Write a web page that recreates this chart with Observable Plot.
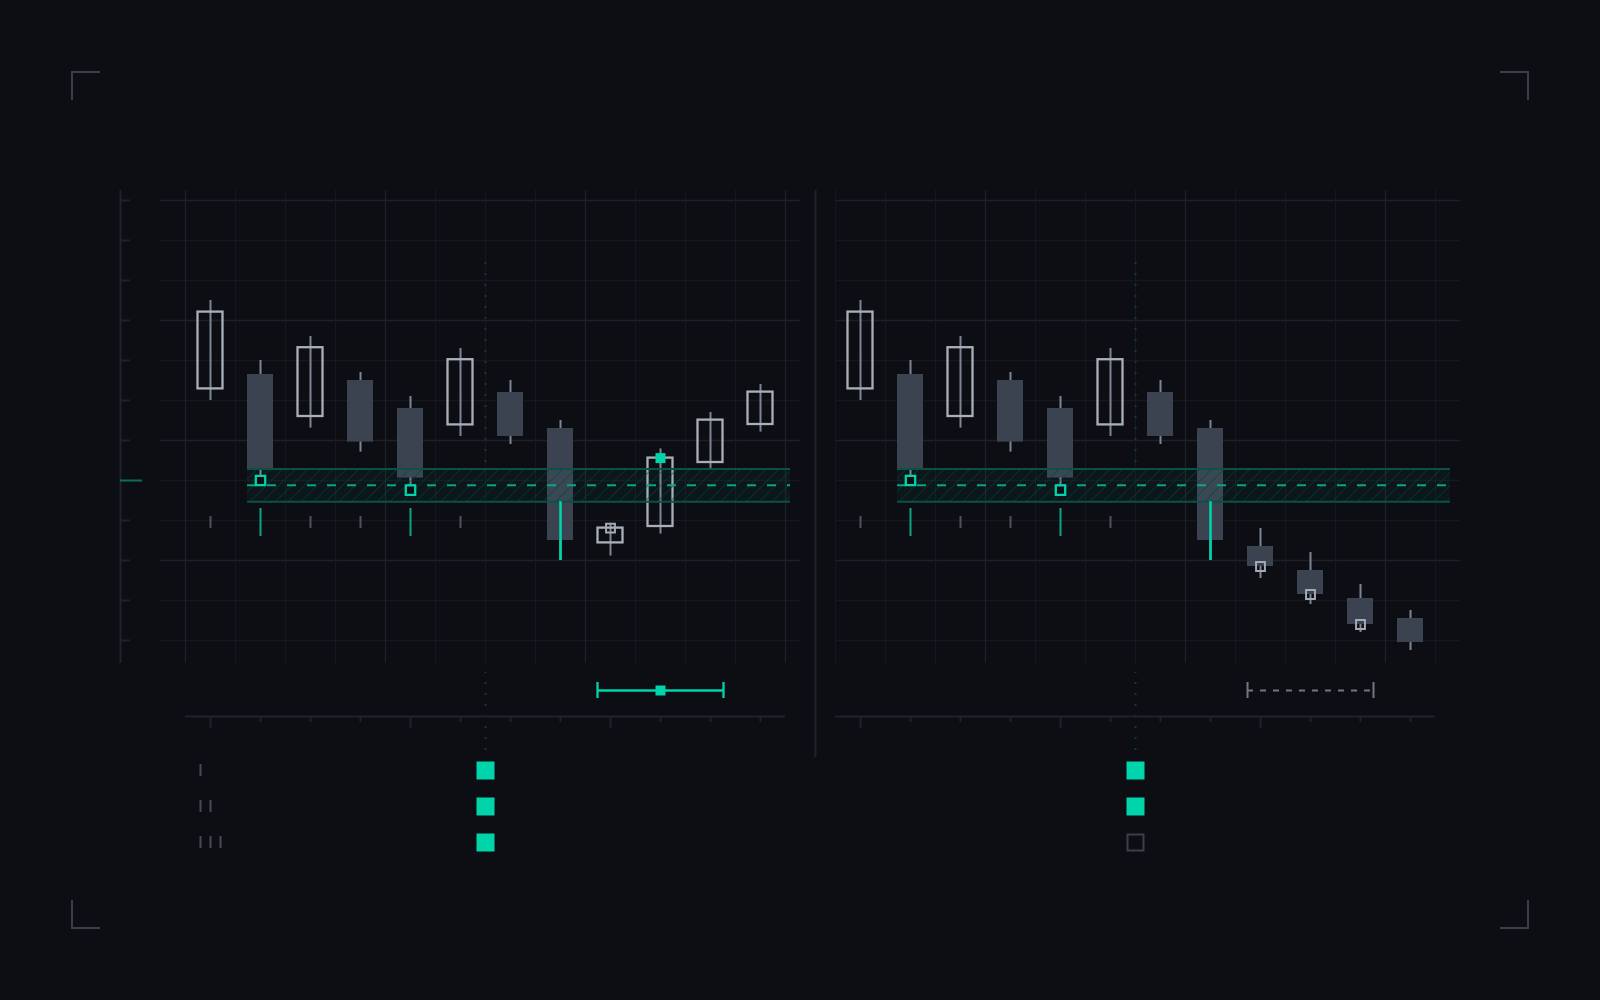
<!DOCTYPE html>
<html>
<head>
<meta charset="utf-8">
<script src="https://cdn.jsdelivr.net/npm/d3@7"></script>
<script src="https://cdn.jsdelivr.net/npm/@observablehq/plot@0.6"></script>
<style>
html, body { margin: 0; padding: 0; background: #0c0e13; overflow: hidden; }
#wrap { position: relative; width: 1600px; height: 1000px; background: #0c0e13; }
#chart { position: absolute; left: 0; top: 0; }
.corner { position: absolute; width: 29px; height: 29px; border: 0 solid #3a3f47; box-sizing: border-box; }
.tl { left: 71px; top: 71px; border-top-width: 2px; border-left-width: 2px; }
.tr { right: 71px; top: 71px; border-top-width: 2px; border-right-width: 2px; }
.bl { left: 71px; bottom: 71px; border-bottom-width: 2px; border-left-width: 2px; }
.br { right: 71px; bottom: 71px; border-bottom-width: 2px; border-right-width: 2px; }
</style>
</head>
<body>
<div id="wrap">
  <div class="corner tl"></div><div class="corner tr"></div>
  <div class="corner bl"></div><div class="corner br"></div>
  <div id="chart"></div>
</div>
<script>
// ---------------- data ----------------
const PANEL_OFFSET = 13;               // right panel candle index offset
const candleIdx = d3.range(12);

const openL  = [106.29, 106.65, 105.60, 106.50, 105.80, 105.39, 106.20, 105.30, 102.44, 102.85, 104.45, 105.40];
const closeL = [108.21, 104.30, 107.32, 104.96, 104.06, 107.02, 105.10, 102.50, 102.81, 104.56, 105.51, 106.21];
const highL  = [108.50, 107.00, 107.60, 106.70, 106.10, 107.30, 106.50, 105.50, 102.93, 104.79, 105.70, 106.40];
const lowL   = [106.00, 104.00, 105.31, 104.71, 103.76, 105.10, 104.90, 102.00, 102.11, 102.66, 104.25, 105.21];

const openR  = [106.29, 106.65, 105.60, 106.50, 105.80, 105.39, 106.20, 105.30, 102.35, 101.75, 101.05, 100.55];
const closeR = [108.21, 104.30, 107.32, 104.96, 104.06, 107.02, 105.10, 102.50, 101.85, 101.15, 100.40,  99.95];
const highR  = [108.50, 107.00, 107.60, 106.70, 106.10, 107.30, 106.50, 105.50, 102.80, 102.20, 101.40, 100.75];
const lowR   = [106.00, 104.00, 105.31, 104.71, 103.76, 105.10, 104.90, 102.00, 101.55, 100.90, 100.20,  99.75];

// support zone
const bandTop = 104.29, bandBottom = 103.47, refLevel = 103.88;
const bandSpans = [[0.74, 11.6], [13.74, 24.8]];
const breakdownIdx = [7, 7 + PANEL_OFFSET];

// markers
const tealHollowAtLow = [1, 4, 1 + PANEL_OFFSET, 4 + PANEL_OFFSET];
const tealFilledAtClose = [9];
const grayHollowAtClose = [8, 8 + PANEL_OFFSET, 9 + PANEL_OFFSET, 10 + PANEL_OFFSET];

// small marks under first candles
const subMarkIdx = [0, 1, 2, 3, 4, 5];
const subMarkAccent = [false, true, false, false, true, false];

// grid / axes
const yTicks = d3.range(100, 112);          // 100..111
const yMajor = [111, 108, 105, 102];
const yAccentTick = 104;
const xGridL = d3.range(-0.5, 12, 1);       // -0.5..11.5
const xGridR = d3.range(12.5, 25, 1);       // 12.5..24.5
const xGridMajor = [-0.5, 3.5, 7.5, 11.5, 15.5, 19.5, 23.5];
const longTickIdx = [0, 4, 8];

// range bars (bottom)
const rangeLevel = 98.75;
const rangeL = [7.74, 10.26], rangeLMid = 9;
const rangeR = [20.74, 23.26];

// dividers
const dividerX = [5.5, 5.5 + PANEL_OFFSET];

// legend
const legendRows = [96.75, 95.85, 94.95];
const legendTickX = [[-0.2], [-0.2, 0], [-0.2, 0, 0.2]];
const legendRightFilled = [true, true, false];

// ---------------- build tables ----------------
const candles = [];
candleIdx.forEach(i => {
  candles.push({x: i, open: openL[i], close: closeL[i], high: highL[i], low: lowL[i]});
  candles.push({x: i + PANEL_OFFSET, open: openR[i], close: closeR[i], high: highR[i], low: lowR[i]});
});
const byX = new Map(candles.map(d => [d.x, d]));
const bull = candles.filter(d => d.close >= d.open);
const bear = candles.filter(d => d.close < d.open);

const subMarks = [];
subMarkIdx.forEach((i, k) => {
  subMarks.push({x: i, accent: subMarkAccent[k]});
  subMarks.push({x: i + PANEL_OFFSET, accent: subMarkAccent[k]});
});

const bottomTicks = [];
candleIdx.forEach(i => {
  const long = longTickIdx.includes(i);
  bottomTicks.push({x: i, long});
  bottomTicks.push({x: i + PANEL_OFFSET, long});
});

const legendTicks = [];
legendRows.forEach((y, r) => legendTickX[r].forEach(x => legendTicks.push({x, y})));

const C = {
  grid: "#15191f", gridMajor: "#1c2129", axis: "#1e232b",
  bear: "#3b4351", bullStroke: "#a9b0bb", wick: "#7d8696",
  teal: "#00d4aa", tealDim: "#0ea385", tealDark: "#0a5246", bg: "#0c0e13"
};

const chart = Plot.plot({
  width: 1600, height: 1000, margin: 0,
  x: {domain: [-4.2, 27.8], axis: null},
  y: {domain: [91, 116], axis: null},
  style: {background: "transparent", overflow: "visible"},
  marks: [
    // horizontal grid
    Plot.ruleY(yTicks.filter(v => !yMajor.includes(v)), {y: d => d, x1: -1, x2: 11.8, stroke: C.grid, strokeWidth: 1.3}),
    Plot.ruleY(yTicks.filter(v => !yMajor.includes(v)), {y: d => d, x1: 12.5, x2: 25, stroke: C.grid, strokeWidth: 1.3}),
    Plot.ruleY(yMajor, {y: d => d, x1: -1, x2: 11.8, stroke: C.gridMajor, strokeWidth: 1.3}),
    Plot.ruleY(yMajor, {y: d => d, x1: 12.5, x2: 25, stroke: C.gridMajor, strokeWidth: 1.3}),
    // vertical grid
    Plot.ruleX(xGridL.concat(xGridR).filter(v => !xGridMajor.includes(v)), {x: d => d, y1: 99.425, y2: 111.25, stroke: C.grid, strokeWidth: 1.3}),
    Plot.ruleX(xGridMajor, {x: d => d, y1: 99.425, y2: 111.25, stroke: C.gridMajor, strokeWidth: 1.3}),

    // y axis (left)
    Plot.ruleX([-1.8], {x: d => d, y1: 99.425, y2: 111.25, stroke: C.axis, strokeWidth: 2}),
    Plot.ruleY(yTicks.filter(v => v !== yAccentTick), {y: d => d, x1: -1.8, x2: -1.6, stroke: C.axis, strokeWidth: 2}),
    Plot.ruleY([yAccentTick], {y: d => d, x1: -1.8, x2: -1.36, stroke: "#0d6e5c", strokeWidth: 2}),

    // separator
    Plot.ruleX([12.1], {x: d => d, y1: 97.075, y2: 111.25, stroke: C.axis, strokeWidth: 2}),

    // dotted dividers
    Plot.ruleX(dividerX, {x: d => d, y1: 104.45, y2: 109.45, stroke: "#0c3d35", strokeWidth: 2, strokeDasharray: "2,9"}),
    Plot.ruleX(dividerX, {x: d => d, y1: 97.25, y2: 99.2, stroke: "#0c3d35", strokeWidth: 2, strokeDasharray: "2,9"}),

    // wicks
    Plot.ruleX(candles, {x: "x", y1: "low", y2: "high", stroke: C.wick, strokeWidth: 2}),
    // bear bodies
    Plot.rect(bear, {x1: d => d.x - 0.26, x2: d => d.x + 0.26, y1: "open", y2: "close", fill: C.bear}),
    // bull bodies (hollow)
    Plot.rect(bull, {x1: d => d.x - 0.25, x2: d => d.x + 0.25, y1: "open", y2: "close", fill: "none", stroke: C.bullStroke, strokeWidth: 2.3}),

    // support band
    Plot.rect(bandSpans, {x1: d => d[0], x2: d => d[1], y1: bandBottom, y2: bandTop, fill: "#00c8a0", fillOpacity: 0.05}),
    Plot.rect(bandSpans, {x1: d => d[0], x2: d => d[1], y1: bandBottom, y2: bandTop, fill: "url(#hatch)"}),
    Plot.ruleY(bandSpans, {y: bandTop, x1: d => d[0], x2: d => d[1], stroke: C.tealDark, strokeWidth: 2}),
    Plot.ruleY(bandSpans, {y: bandBottom, x1: d => d[0], x2: d => d[1], stroke: C.tealDark, strokeWidth: 2}),
    Plot.ruleY(bandSpans, {y: refLevel, x1: d => d[0], x2: d => d[1], stroke: C.tealDim, strokeWidth: 2, strokeDasharray: "9,11"}),

    // breakdown wick
    Plot.ruleX(breakdownIdx, {x: d => d, y1: bandBottom, y2: d => byX.get(d).low, stroke: C.teal, strokeWidth: 2.6}),

    // sub marks
    Plot.ruleX(subMarks.filter(d => !d.accent), {x: "x", y1: 102.8, y2: 103.1, stroke: "#4b5261", strokeWidth: 2}),
    Plot.ruleX(subMarks.filter(d => d.accent), {x: "x", y1: 102.6, y2: 103.3, stroke: C.tealDim, strokeWidth: 2}),

    // markers
    Plot.dot(tealHollowAtLow, {x: d => d, y: d => byX.get(d).low, symbol: "square", r: 5.3, fill: C.bg, stroke: C.teal, strokeWidth: 2.3}),
    Plot.dot(tealFilledAtClose, {x: d => d, y: d => byX.get(d).close, symbol: "square", r: 5.64, fill: C.teal, stroke: "none"}),
    Plot.dot(grayHollowAtClose, {x: d => d, y: d => byX.get(d).close, symbol: "square", r: 5.0, fill: "none", stroke: "#a3aab5", strokeWidth: 2}),

    // bottom axes
    Plot.ruleY([[-0.5, 11.5], [12.5, 24.5]], {y: 98.1, x1: d => d[0], x2: d => d[1], stroke: C.axis, strokeWidth: 2}),
    Plot.ruleX(bottomTicks, {x: "x", y1: 98.1, y2: d => d.long ? 97.8 : 97.95, stroke: C.axis, strokeWidth: 2}),

    // range bars
    Plot.ruleY([rangeL], {y: rangeLevel, x1: d => d[0], x2: d => d[1], stroke: C.teal, strokeWidth: 2.3}),
    Plot.ruleX(rangeL, {x: d => d, y1: rangeLevel - 0.2, y2: rangeLevel + 0.2, stroke: C.teal, strokeWidth: 2.3}),
    Plot.dot([rangeLMid], {x: d => d, y: rangeLevel, symbol: "square", r: 5.64, fill: C.teal}),
    Plot.ruleY([rangeR], {y: rangeLevel, x1: d => d[0], x2: d => d[1], stroke: "#6f7786", strokeWidth: 2, strokeDasharray: "6,7"}),
    Plot.ruleX(rangeR, {x: d => d, y1: rangeLevel - 0.2, y2: rangeLevel + 0.2, stroke: "#6f7786", strokeWidth: 2}),

    // legend
    Plot.ruleX(legendTicks, {x: "x", y1: d => d.y - 0.15, y2: d => d.y + 0.15, stroke: "#434a58", strokeWidth: 2}),
    Plot.dot(legendRows, {x: dividerX[0], y: d => d, symbol: "square", r: 10.16, fill: C.teal}),
    Plot.dot(legendRows.filter((d, i) => legendRightFilled[i]), {x: dividerX[1], y: d => d, symbol: "square", r: 10.16, fill: C.teal}),
    Plot.dot(legendRows.filter((d, i) => !legendRightFilled[i]), {x: dividerX[1], y: d => d, symbol: "square", r: 9.03, fill: "none", stroke: "#3a404b", strokeWidth: 2})
  ]
});

const ns = "http://www.w3.org/2000/svg";
const defs = document.createElementNS(ns, "defs");
defs.innerHTML = '<pattern id="hatch" patternUnits="userSpaceOnUse" width="9" height="9" patternTransform="rotate(45)"><line x1="0" y1="0" x2="0" y2="9" stroke="#0d3d36" stroke-width="1.2"/></pattern>';
chart.insertBefore(defs, chart.firstChild);
document.getElementById("chart").appendChild(chart);
</script>
</body>
</html>
